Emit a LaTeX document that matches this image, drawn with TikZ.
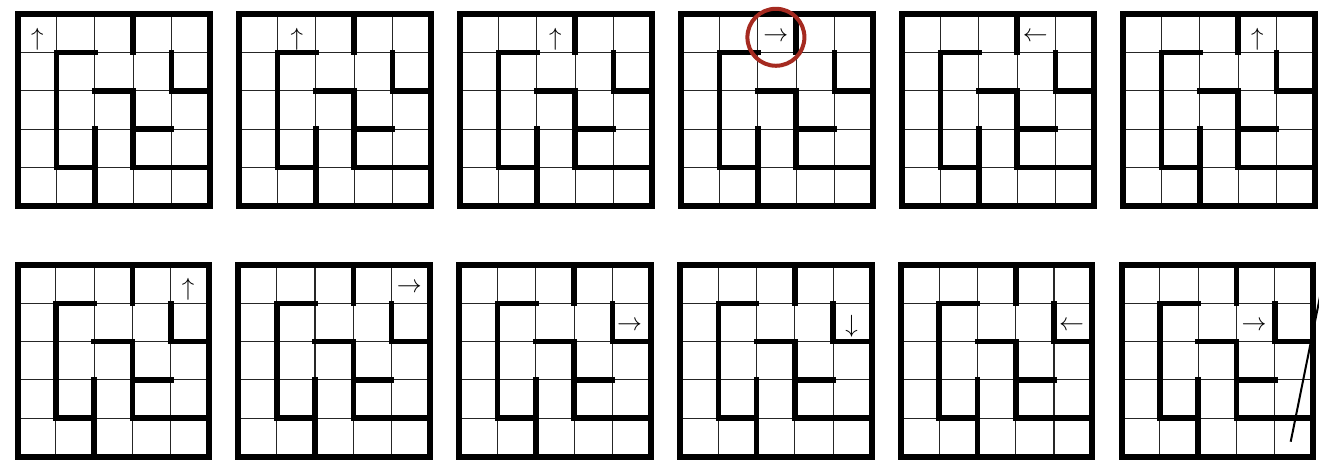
\documentclass[tikz,border=0pt]{standalone}
\usetikzlibrary{calc}
\definecolor{ringred}{RGB}{165,42,32}
\tikzset{
  thingrid/.style={line width=1.1pt, black!85},
  mazewall/.style={line width=5.6pt, line cap=rect, line join=miter},
  mazeborder/.style={line width=6pt, line join=miter},
  movearrow/.style={font=\fontsize{24.88}{25}\selectfont, inner sep=0pt},
  ring/.style={draw=ringred, circle, line width=4pt, minimum size=57pt, inner sep=0pt},
  slash/.style={line width=2pt},
}
\newcommand\mazeboard[6]{%
  \begin{scope}[shift={(#1,#2)}, x=38.3pt, y=-38.3pt]
    \foreach \k in {1,2,3,4} {
      \draw[thingrid] (\k,0) -- (\k,5);
      \draw[thingrid] (0,\k) -- (5,\k);
    }
    \draw[mazewall] (3,0) -- (3,1);
    \draw[mazewall] (2,1) -- (1,1) -- (1,4) -- (2,4);
    \draw[mazewall] (2,3) -- (2,5);
    \draw[mazewall] (4,1) -- (4,2) -- (5,2);
    \draw[mazewall] (2,2) -- (3,2) -- (3,4) -- (5,4);
    \draw[mazewall] (3,3) -- (4,3);
    \draw[mazeborder] (0,0) rectangle (5,5);
    \node[movearrow] (#3) at (#4,#5) {$#6$};
  \end{scope}}
\begin{document}
\begin{tikzpicture}[x=1pt, y=-1pt]
  \useasboundingbox[fill=white] (0,0) rectangle (1319,462);
  % top row
  \mazeboard{18.3}{14.3}{m1}{0.5}{0.64}{\uparrow}
  \mazeboard{239.3}{14.3}{m2}{1.5}{0.64}{\uparrow}
  \mazeboard{460.3}{14.3}{m3}{2.48}{0.64}{\uparrow}
  \mazeboard{681.3}{14.3}{m4}{2.47}{0.6}{\rightarrow}
  \mazeboard{902.3}{14.3}{m5}{3.47}{0.6}{\leftarrow}
  \mazeboard{1123.3}{14.3}{m6}{3.5}{0.64}{\uparrow}
  % bottom row
  \mazeboard{17.6}{265}{m7}{4.45}{0.64}{\uparrow}
  \mazeboard{238.4}{265}{m8}{4.46}{0.6}{\rightarrow}
  \mazeboard{459.2}{265}{m9}{4.45}{1.6}{\rightarrow}
  \mazeboard{680}{265}{m10}{4.48}{1.61}{\downarrow}
  \mazeboard{900.8}{265}{m11}{4.46}{1.6}{\leftarrow}
  \mazeboard{1121.6}{265}{m12}{3.46}{1.6}{\rightarrow}
  % red ring round the blocked move
  \node[ring] (blocked) at (m4) {};
  % stray stroke at the right edge
  \coordinate (slashA) at (1290.7,441.7);
  \coordinate (slashB) at (1322,286.8);
  \draw[slash] (slashA) -- (slashB);
\end{tikzpicture}
\end{document}
